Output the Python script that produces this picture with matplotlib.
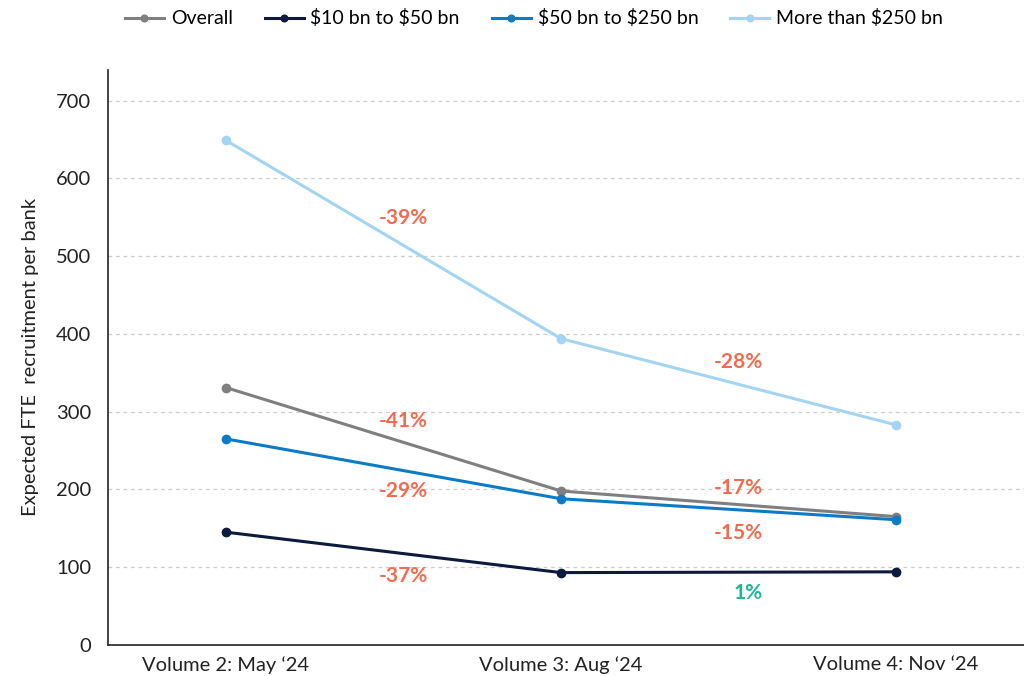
import matplotlib
matplotlib.use("Agg")
from matplotlib import pyplot as plt

plt.rcParams['font.family'] = ['Lato', 'DejaVu Sans']

volumes = ["Volume 2: May \u201824", "Volume 3: Aug \u201824", "Volume 4: Nov \u201824"]
overall = [331, 198, 165]
small = [145, 93, 94]
mid = [265, 188, 161]
large = [649, 394, 283]

series = [
    ("Overall", overall, "#7f7f7f"),
    (r"\$10 bn to \$50 bn", small, "#0b1a3d"),
    (r"\$50 bn to \$250 bn", mid, "#0b7bc6"),
    (r"More than \$250 bn", large, "#a3d5f2"),
]

# change labels: (segment, label y, text)
changes = [
    (0, 549, "-39%"), (0, 288, "-41%"), (0, 198, "-29%"), (0, 89, "-37%"),
    (1, 364, "-28%"), (1, 202, "-17%"), (1, 144, "-15%"), (1, 67, "1%"),
]

fig = plt.figure(figsize=(10.24, 6.76), dpi=100)
ax = fig.add_axes([0.1055, 0.046, 0.8945, 0.851])

x = list(range(len(volumes)))
for name, vals, color in series:
    ax.plot(x, vals, color=color, lw=2.2, marker="o", ms=6, label=name)

for seg, yv, txt in changes:
    color = "#f26b50" if txt.startswith("-") else "#1db992"
    xpos = seg + 0.53 if txt.startswith("-") else seg + 0.56
    ax.text(xpos, yv, txt, color=color, fontsize=15, fontweight="bold",
            ha="center", va="center")

ax.set_xlim(-0.352, 2.382)
ax.set_ylim(0, 740)
ax.set_yticks(range(0, 701, 100))
ax.set_xticks(x)
ax.set_xticklabels(volumes)
ax.tick_params(length=0, labelsize=14.5, colors="#222222")
ax.tick_params(axis="y", pad=12)
ax.tick_params(axis="x", pad=8)
ax.yaxis.grid(True, linestyle=(0, (3, 3)), color="#cccccc", lw=0.9)
ax.set_axisbelow(True)
for s in ["top", "right"]:
    ax.spines[s].set_visible(False)
for s in ["left", "bottom"]:
    ax.spines[s].set_color("#222222")
    ax.spines[s].set_linewidth(1.2)
ax.set_ylabel("Expected FTE  recruitment per bank", fontsize=14.5, color="#222222", labelpad=12)

fig.legend(loc="upper left", bbox_to_anchor=(0.105, 1.012), ncol=4, frameon=False,
           fontsize=14, handlelength=2.0, columnspacing=1.65, handletextpad=0.35,
           markerscale=0.8)

fig.savefig("out.png", dpi=100)
